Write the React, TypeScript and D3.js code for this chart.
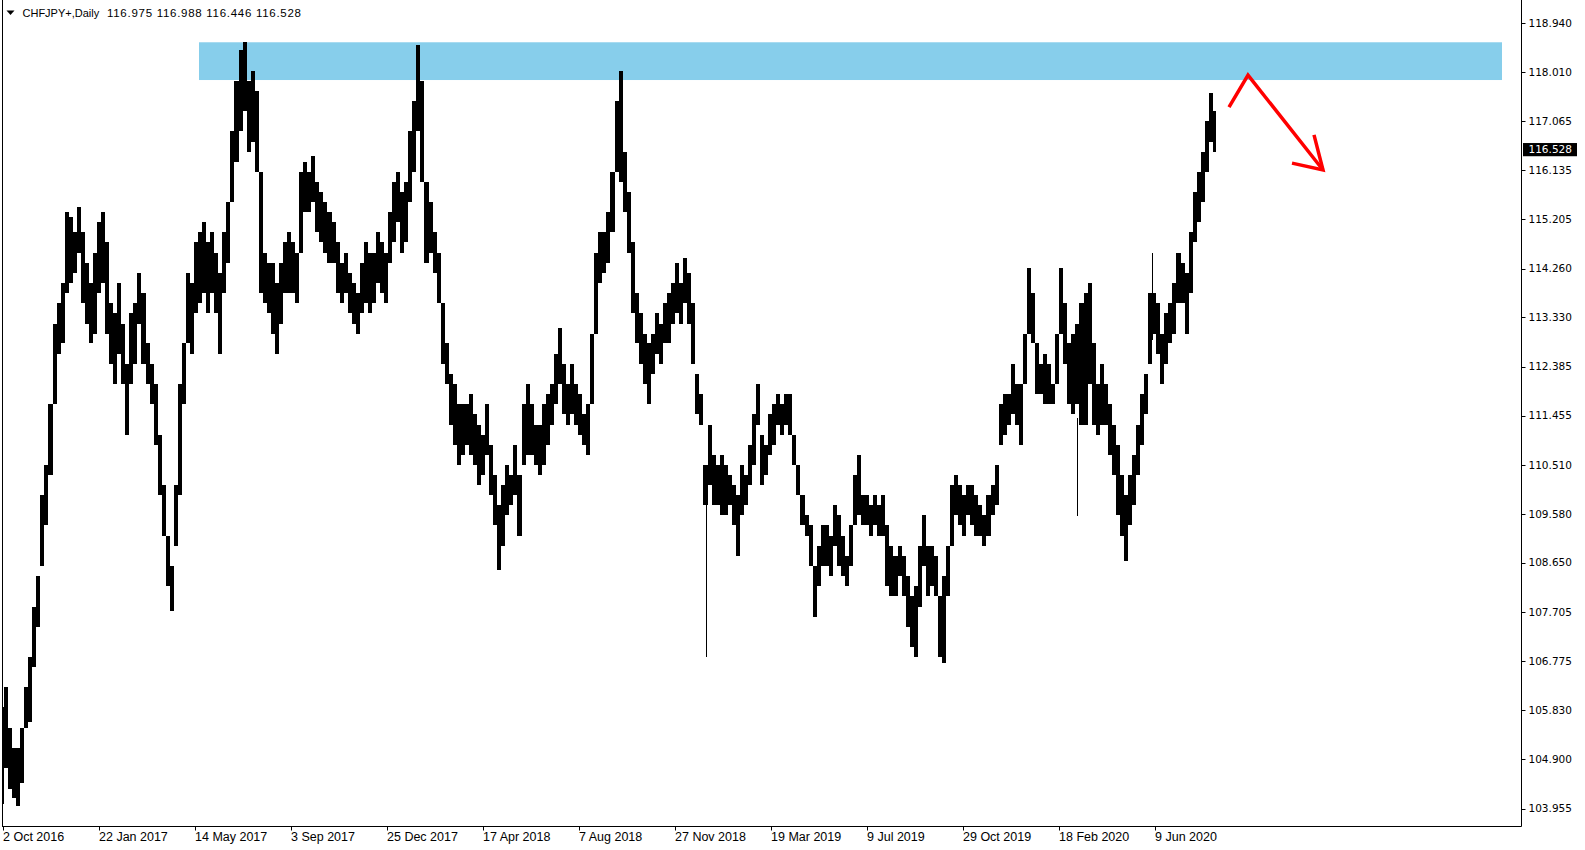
import React from "react";
import * as d3 from "d3";

// ---------- data ----------
const SYMBOL = "CHFJPY+,Daily";
const LAST_OHLC = "116.975 116.988 116.446 116.528";
const LAST_PRICE = 116.528;

const dateLabels = [
  "2 Oct 2016", "22 Jan 2017", "14 May 2017", "3 Sep 2017", "25 Dec 2017",
  "17 Apr 2018", "7 Aug 2018", "27 Nov 2018", "19 Mar 2019", "9 Jul 2019",
  "29 Oct 2019", "18 Feb 2020", "9 Jun 2020",
];
const BARS_PER_LABEL = 96; // 16 weeks of 6 daily bars
const LAST_BAR = 1212;

const priceTicks = [
  118.94, 118.01, 117.065, 116.135, 115.205, 114.26, 113.33, 112.385,
  111.455, 110.51, 109.58, 108.65, 107.705, 106.775, 105.83, 104.9, 103.955,
];

// band high / low, sampled about every 4 daily bars
const SAMPLE_STEP = 4.043;
const highs = [
  105.89, 106.27, 105.50, 105.11, 105.11, 105.50, 106.27, 106.85, 107.81, 108.39,
  109.94, 110.51, 111.67, 113.21, 113.60, 113.98, 115.33, 115.24, 114.95, 115.43,
  114.95, 114.37, 113.98, 114.56, 115.14, 115.33, 114.76, 113.60, 113.41, 113.98,
  113.21, 112.44, 113.41, 113.60, 114.18, 113.79, 112.83, 112.44, 112.06, 111.09,
  110.13, 109.16, 108.59, 110.13, 112.06, 112.83, 114.18, 113.98, 114.76, 114.95,
  115.14, 114.76, 114.95, 114.56, 114.18, 114.95, 115.53, 116.88, 117.84, 118.42,
  118.58, 117.84, 118.03, 117.65, 116.11, 114.56, 114.37, 114.37, 113.98, 114.37,
  114.76, 114.95, 114.76, 114.56, 116.11, 116.30, 116.11, 116.40, 115.91, 115.72,
  115.53, 115.33, 115.14, 114.76, 114.37, 114.56, 114.18, 113.98, 113.79, 114.37,
  114.76, 114.56, 114.56, 114.95, 114.76, 114.56, 115.33, 115.91, 116.11, 115.72,
  115.91, 116.88, 117.46, 118.53, 117.84, 115.91, 115.53, 114.95, 114.56, 113.60,
  112.83, 112.25, 112.06, 111.67, 111.67, 111.67, 111.86, 111.48, 111.28, 111.09,
  111.67, 110.90, 110.32, 109.74, 110.13, 110.51, 110.32, 110.90, 110.32, 111.67,
  112.06, 111.67, 111.28, 111.28, 111.67, 111.86, 112.06, 112.63, 113.12, 112.44,
  112.06, 112.44, 112.06, 111.86, 111.48, 111.67, 113.02, 114.56, 114.95, 114.95,
  115.33, 116.11, 117.46, 118.02, 116.49, 115.72, 114.76, 113.79, 113.41, 113.02,
  112.83, 113.02, 113.41, 113.21, 113.60, 113.79, 113.98, 114.37, 113.98, 114.47,
  114.18, 113.60, 112.25, 111.86, 110.51, 111.28, 110.71, 110.51, 110.71, 110.51,
  110.32, 110.13, 109.94, 110.51, 110.32, 110.90, 111.48, 112.06, 111.09, 110.90,
  111.48, 111.67, 111.86, 111.67, 111.86, 111.86, 111.09, 110.51, 109.94, 109.55,
  109.36, 108.59, 108.97, 109.36, 109.36, 109.16, 109.74, 109.55, 109.16, 108.78,
  109.36, 110.32, 110.71, 109.94, 109.94, 109.74, 109.94, 109.74, 109.94, 109.36,
  108.97, 108.78, 108.97, 108.78, 108.39, 108.01, 108.20, 108.97, 109.55, 108.97,
  108.97, 108.78, 108.01, 108.39, 108.97, 110.13, 110.32, 110.13, 109.94, 110.13,
  110.13, 109.94, 109.74, 109.55, 109.94, 110.13, 110.51, 111.67, 111.86, 111.86,
  112.44, 112.06, 112.06, 113.02, 114.27, 113.79, 112.83, 112.44, 112.63, 112.44,
  112.06, 113.02, 114.27, 113.60, 112.83, 113.02, 113.21, 113.60, 113.79, 113.98,
  112.83, 112.06, 112.44, 112.06, 111.67, 111.28, 110.90, 110.32, 109.94, 110.32,
  110.71, 111.28, 111.86, 112.25, 113.79, 113.79, 113.60, 113.02, 113.41, 113.60,
  113.98, 114.56, 114.37, 114.18, 114.95, 115.72, 116.11, 116.49, 117.07, 117.61,
  117.26,
];
const lows = [
  104.05, 104.73, 104.34, 104.15, 104.01, 104.44, 105.50, 105.60, 106.66, 107.43,
  108.59, 109.36, 110.32, 111.67, 112.63, 112.83, 113.79, 113.98, 114.18, 114.56,
  113.60, 113.21, 112.83, 113.02, 113.79, 113.98, 113.02, 112.44, 112.06, 112.63,
  112.06, 111.09, 112.06, 112.44, 113.21, 112.44, 112.06, 111.67, 110.90, 109.94,
  109.16, 108.20, 107.72, 108.97, 109.94, 111.67, 112.83, 112.63, 113.41, 113.60,
  113.79, 113.41, 113.79, 113.41, 112.63, 113.79, 114.37, 115.53, 116.30, 116.88,
  117.26, 116.49, 116.68, 116.11, 113.79, 113.60, 113.41, 113.02, 112.63, 113.21,
  113.79, 113.79, 113.79, 113.60, 114.56, 115.33, 115.33, 115.53, 114.95, 114.76,
  114.56, 114.37, 114.37, 113.79, 113.60, 113.79, 113.41, 113.21, 113.02, 113.41,
  113.60, 113.41, 113.60, 113.98, 113.79, 113.60, 114.37, 114.76, 115.14, 114.56,
  114.76, 115.53, 116.11, 116.88, 115.91, 114.37, 114.56, 114.18, 113.60, 112.44,
  112.06, 111.28, 110.90, 110.51, 110.71, 110.90, 110.71, 110.51, 110.13, 110.32,
  110.71, 109.94, 109.36, 108.51, 108.97, 109.55, 109.74, 109.94, 109.16, 110.51,
  110.71, 110.71, 110.51, 110.32, 110.51, 110.90, 111.28, 111.67, 112.06, 111.48,
  111.28, 111.48, 111.28, 111.09, 110.90, 110.71, 111.67, 113.02, 113.98, 114.18,
  114.37, 114.95, 116.11, 115.91, 115.33, 114.56, 113.41, 112.83, 112.44, 112.06,
  111.67, 112.25, 112.63, 112.44, 112.83, 112.83, 113.21, 113.41, 113.21, 113.60,
  113.21, 112.44, 111.48, 111.28, 109.74, 110.13, 109.74, 109.74, 109.55, 109.55,
  109.74, 109.36, 108.78, 109.55, 109.74, 110.13, 110.51, 111.28, 110.13, 110.32,
  110.71, 110.90, 111.28, 111.09, 111.28, 111.09, 110.51, 109.94, 109.36, 109.16,
  108.59, 107.62, 108.20, 108.59, 108.59, 108.39, 108.97, 108.59, 108.39, 108.20,
  108.59, 109.36, 109.55, 109.36, 109.36, 109.16, 109.36, 109.16, 109.16, 108.20,
  108.01, 108.01, 108.39, 108.01, 107.43, 107.04, 106.85, 107.81, 108.59, 108.01,
  108.20, 108.01, 106.85, 106.73, 108.01, 108.97, 109.55, 109.36, 109.16, 109.55,
  109.36, 109.16, 109.16, 108.97, 109.16, 109.55, 109.74, 110.90, 111.09, 111.28,
  111.48, 111.28, 110.90, 112.06, 113.02, 112.83, 111.86, 111.86, 111.67, 111.67,
  111.67, 112.06, 113.02, 112.44, 111.67, 111.48, 111.67, 111.28, 111.28, 112.06,
  111.28, 111.09, 111.28, 111.28, 110.71, 110.32, 109.55, 109.16, 108.68, 109.36,
  109.74, 110.32, 110.90, 111.48, 112.44, 113.02, 112.63, 112.06, 112.44, 112.83,
  113.02, 113.60, 113.60, 113.02, 113.79, 114.76, 115.14, 115.53, 116.11, 116.68,
  116.49,
];

// single-day wicks that stick out of the band: [bar, from price, to price]
const spikeBars = [703, 1074, 1149];
const spikeFrom = [110.3, 111.4, 112.9];
const spikeTo = [106.85, 109.53, 114.56];

// resistance zone
const zoneBars = [196, 1499];
const zonePrices = [118.576, 117.856];

// hand-drawn arrow: [bar, price]
const arrowLine: [number, number][] = [[1226, 117.34], [1245, 117.95], [1320, 116.14]];
const arrowHead: [number, number][] = [[1289, 116.27], [1320, 116.14], [1311, 116.81]];

const FONT = "'Liberation Sans', Arial, sans-serif";
const AXIS_FONT = "'DejaVu Sans', Verdana, sans-serif";

export default function App() {
  const W = 1585;
  const H = 850;
  const x = d3.scaleLinear().domain([0, LAST_BAR]).range([3, 1215]);
  const y = d3.scaleLinear().domain([118.94, 103.955]).range([23.2, 808.7]);
  const AX = 1521.5; // price axis line
  const BY = 826.5; // time axis line

  const sampleBar = (i: number) => i * SAMPLE_STEP - 1;
  const band = d3
    .area<number>()
    .x((_, i) => x(sampleBar(i)))
    .y0((_, i) => y(lows[i]))
    .y1((d) => y(d))
    .curve(d3.curveStep)(highs) as string;

  const line = d3
    .line<[number, number]>()
    .x((d) => x(d[0]))
    .y((d) => y(d[1]));

  return (
    <div style={{ width: W, height: H, position: "relative" }}>
      <style>{`body{margin:0;background:#fff}`}</style>
      <svg width={W} height={H} style={{ display: "block", background: "#fff" }}>
        {/* resistance zone */}
        <rect
          x={x(zoneBars[0])}
          y={y(zonePrices[0])}
          width={x(zoneBars[1]) - x(zoneBars[0])}
          height={y(zonePrices[1]) - y(zonePrices[0])}
          fill="#87CEEB"
        />

        {/* price band */}
        <path d={band} fill="#000" stroke="none" shapeRendering="crispEdges" />
        {highs.map((h, i) => (
          <line
            key={"b" + i}
            x1={Math.round(x(sampleBar(i))) + 0.5}
            x2={Math.round(x(sampleBar(i))) + 0.5}
            y1={y(h)}
            y2={y(lows[i])}
            stroke="#000"
            strokeWidth={1}
            shapeRendering="crispEdges"
          />
        ))}
        {spikeBars.map((b, i) => (
          <line
            key={"s" + i}
            x1={Math.round(x(b)) + 0.5}
            x2={Math.round(x(b)) + 0.5}
            y1={y(spikeFrom[i])}
            y2={y(spikeTo[i])}
            stroke="#000"
            strokeWidth={1.5}
            shapeRendering="crispEdges"
          />
        ))}

        {/* arrow */}
        <path d={line(arrowLine) as string} fill="none" stroke="#ff0000" strokeWidth={3.5} strokeLinejoin="miter" />
        <path d={line(arrowHead) as string} fill="none" stroke="#ff0000" strokeWidth={3.5} strokeLinejoin="miter" />

        {/* frame */}
        <line x1={2.5} x2={2.5} y1={0} y2={BY} stroke="#000" strokeWidth={1} />
        <line x1={2} x2={AX} y1={BY} y2={BY} stroke="#000" strokeWidth={1} />
        <line x1={AX} x2={AX} y1={0} y2={BY} stroke="#000" strokeWidth={1} />

        {/* price axis */}
        {priceTicks.map((p) => (
          <g key={"p" + p}>
            <line x1={AX} x2={AX + 4} y1={Math.round(y(p)) + 0.5} y2={Math.round(y(p)) + 0.5} stroke="#000" />
            <text
              x={1528.5}
              y={y(p)}
              dy="0.35em"
              fontFamily={AXIS_FONT}
              fontSize={10.5}
              fill="#000"
            >
              {p.toFixed(3)}
            </text>
          </g>
        ))}
        <rect x={1523} y={y(LAST_PRICE) - 6.6} width={54} height={13.2} fill="#000" />
        <text
          x={1528.5}
          y={y(LAST_PRICE)}
          dy="0.35em"
          fontFamily={AXIS_FONT}
          fontSize={10.5}
          fill="#fff"
        >
          {LAST_PRICE.toFixed(3)}
        </text>

        {/* time axis */}
        {dateLabels.map((d, i) => {
          const tx = Math.round(x(i * BARS_PER_LABEL)) + 0.5;
          return (
            <g key={"d" + i}>
              <line x1={tx} x2={tx} y1={BY} y2={BY + 4} stroke="#000" />
              <text x={tx - 0.5} y={837} dy="0.35em" fontFamily={FONT} fontSize={12.5} fill="#000">
                {d}
              </text>
            </g>
          );
        })}

        {/* title */}
        <path d="M6.5,10.5 L14.5,10.5 L10.5,15 Z" fill="#000" />
        <text x={22.5} y={13} dy="0.35em" fontFamily={FONT} fontSize={11} fill="#000">
          {SYMBOL}
        </text>
        <text
          x={107}
          y={13}
          dy="0.35em"
          fontFamily={FONT}
          fontSize={11.5}
          fill="#000"
          textLength={194}
          lengthAdjust="spacing"
        >
          {LAST_OHLC}
        </text>
      </svg>
    </div>
  );
}
